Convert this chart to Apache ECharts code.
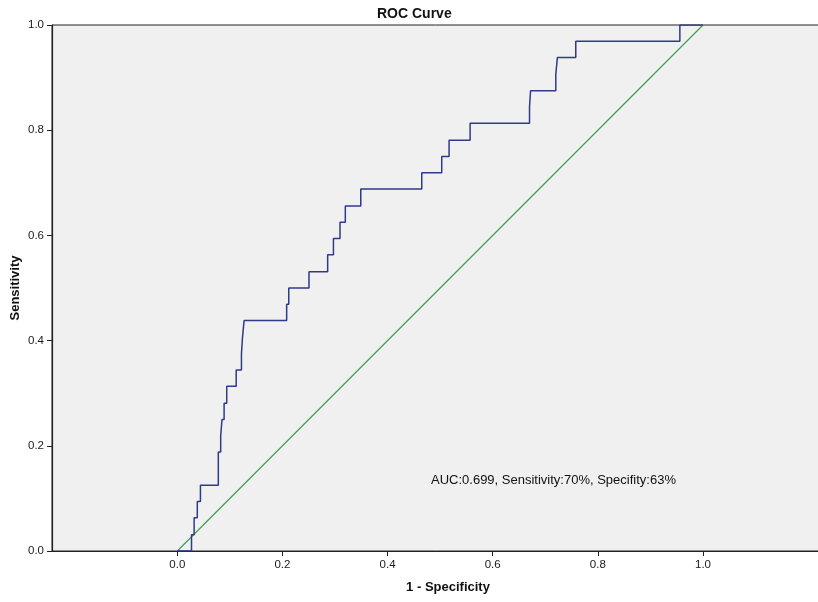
<!DOCTYPE html>
<html>
<head>
<meta charset="utf-8">
<script src="https://cdn.jsdelivr.net/npm/echarts@6/dist/echarts.min.js"></script>
<style>
html,body{margin:0;padding:0;background:#fff;}
#chart{width:818px;height:602px;}
</style>
</head>
<body>
<div id="chart"></div>
<script>
// ROC curve points (1 - specificity, sensitivity)
const fpr = [0, 0.027, 0.032, 0.038, 0.044, 0.078, 0.078, 0.0825, 0.085, 0.089, 0.094, 0.112, 0.122, 0.124, 0.127, 0.208, 0.212, 0.2505, 0.286, 0.297, 0.3095, 0.3196, 0.349, 0.465, 0.503, 0.517, 0.557, 0.670, 0.672, 0.720, 0.723, 0.758, 0.956, 1.0];
const tpr = [0, 0.031, 0.063, 0.094, 0.125, 0.156, 0.188, 0.219, 0.25, 0.281, 0.313, 0.344, 0.375, 0.406, 0.438, 0.469, 0.5, 0.531, 0.563, 0.594, 0.625, 0.656, 0.688, 0.719, 0.75, 0.781, 0.813, 0.844, 0.875, 0.906, 0.938, 0.969, 1.0, 1.0];
// reference diagonal
const refX = [0, 1];
const refY = [0, 1];
const xTicks = [0, 0.2, 0.4, 0.6, 0.8, 1.0];
const yTicks = [0, 0.2, 0.4, 0.6, 0.8, 1.0];
const titleText = 'ROC Curve';
const xName = '1 - Specificity';
const yName = 'Sensitivity';
const noteText = 'AUC:0.699, Sensitivity:70%, Specifity:63%';

const chart = echarts.init(document.getElementById('chart'), null, {renderer: 'canvas'});
const fmt = v => Number(v).toFixed(1);
const font = 'Liberation Sans, Arial, sans-serif';
chart.setOption({
  animation: false,
  backgroundColor: '#ffffff',
  title: {
    text: titleText, left: 372, top: 2,
    textStyle: {fontFamily: font, fontSize: 14, fontWeight: 'bold', color: '#111'}
  },
  grid: {
    left: 52, right: -2, top: 25, bottom: 51,
    containLabel: false, outerBoundsMode: 'none',
    show: true, backgroundColor: '#f0f0f0', borderColor: '#222', borderWidth: 1
  },
  xAxis: {
    type: 'value', min: -0.2384, max: 1.2226,
    name: xName, nameLocation: 'middle', nameGap: 30, nameMoveOverlap: false,
    nameTextStyle: {fontFamily: font, fontSize: 13, fontWeight: 'bold', color: '#111', padding: [0, 0, 0, 24]},
    axisLine: {show: true, onZero: false, lineStyle: {color: '#222', width: 1.2}},
    axisTick: {show: true, customValues: xTicks, length: 5, lineStyle: {color: '#222'}},
    axisLabel: {show: true, customValues: xTicks, formatter: fmt, fontFamily: font, fontSize: 11.5, color: '#1a1a1a', margin: 8},
    splitLine: {show: false}
  },
  yAxis: {
    type: 'value', min: 0, max: 1, interval: 0.2,
    name: yName, nameLocation: 'middle', nameGap: 30, nameRotate: 90, nameMoveOverlap: false,
    nameTextStyle: {fontFamily: font, fontSize: 13, fontWeight: 'bold', color: '#111'},
    axisLine: {show: true, onZero: false, lineStyle: {color: '#222', width: 1.2}},
    axisTick: {show: true, length: 5, lineStyle: {color: '#222'}},
    axisLabel: {formatter: fmt, fontFamily: font, fontSize: 11.5, color: '#1a1a1a', margin: 8},
    splitLine: {show: false}
  },
  graphic: [{
    type: 'text', left: 431, top: 474,
    style: {text: noteText, font: '13px ' + font, fill: '#111'}
  }],
  series: [
    {
      type: 'line', data: refX.map((x, i) => [x, refY[i]]),
      showSymbol: false, lineStyle: {color: '#3d9a4a', width: 1.1}, z: 2
    },
    {
      type: 'line', step: 'end', data: fpr.map((x, i) => [x, tpr[i]]),
      showSymbol: false, lineStyle: {color: '#2e3a8a', width: 1.5}, z: 3
    }
  ]
});
</script>
</body>
</html>
